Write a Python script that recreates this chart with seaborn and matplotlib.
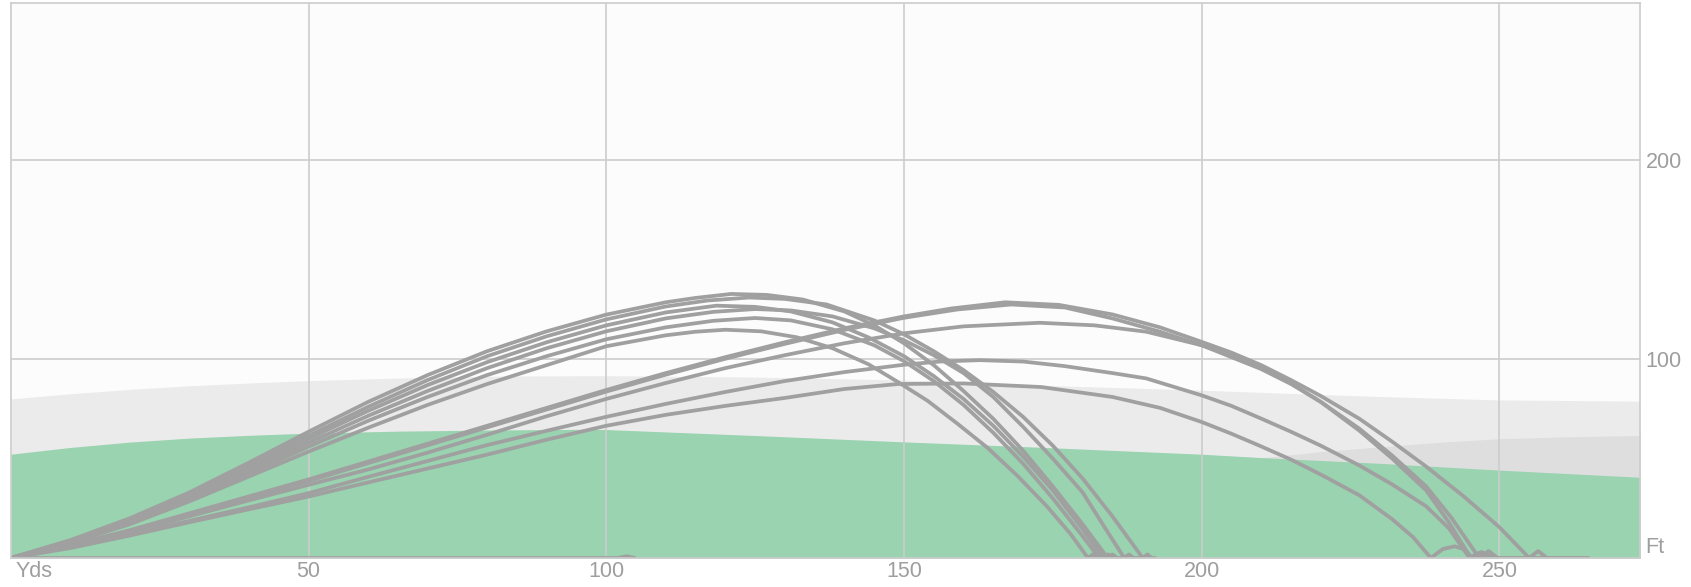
import numpy as np
import pandas as pd
import matplotlib
matplotlib.use("Agg")
import matplotlib.pyplot as plt
import seaborn as sns

# ---------------- data (yards, feet) ----------------
shot_names = ["A1", "A1b", "A2", "A3", "A4", "A5", "B1", "B2", "B3", "B4", "B5", "C1"]

A1_x = [0, 10, 20, 30, 40, 50, 60, 70, 80, 90, 100, 110, 115, 121, 127, 133, 140, 145, 150, 155, 160, 165, 170, 175, 180, 184.2, 185.0, 185.8, 186.5]
A1_y = [0, 9, 20, 33, 48, 63.5, 78.5, 92, 104, 114, 122.4, 128.6, 130.8, 132.8, 132.3, 130, 124, 117, 108, 97, 84, 70, 54, 36, 17, 0, 1.8, 0, 0]

A1b_x = [0, 10, 20, 30, 40, 50, 60, 70, 80, 90, 100, 110, 117, 124, 130, 137, 145, 150, 155, 160, 165, 170, 175, 180, 185, 190.1, 190.9, 191.6, 192.2]
A1b_y = [0, 8.5, 19, 32, 46.5, 61.5, 76, 89.5, 101.5, 111.5, 120, 126.5, 129.5, 131, 130.3, 127.5, 119.5, 112.5, 104, 94.5, 83.5, 71, 56.5, 40, 21, 0, 1.8, 0, 0]

A2_x = [0, 10, 20, 30, 40, 50, 60, 70, 80, 90, 100, 110, 118.5, 125, 131, 138, 144, 150, 155, 160, 165, 170, 175, 180, 183.5, 184.3, 185.0]
A2_y = [0, 8.5, 19, 31.5, 45.5, 60, 74, 87, 98.5, 108.5, 117, 123.5, 126.9, 126.3, 124, 118.5, 111, 101.5, 91.5, 80, 66.5, 51, 34, 14.5, 0, 1.8, 0]

A3_x = [0, 10, 20, 30, 40, 50, 60, 70, 80, 90, 100, 110, 118, 125, 131, 138, 145, 150, 155, 160, 165, 170, 175, 180, 184, 187.0, 187.8, 188.6, 189.5]
A3_y = [0, 8, 18, 30.5, 44, 58, 71.5, 84, 95.5, 105.5, 114, 120.5, 123.8, 125.2, 124.5, 121.5, 115.5, 109.5, 102, 93, 81, 66, 50, 33, 14, 0, 1.8, 0, 0]

A4_x = [0, 10, 20, 30, 40, 50, 60, 70, 80, 90, 100, 110, 118, 125, 131, 138, 145, 150, 155, 160, 165, 170, 175, 180, 182.8, 183.6, 184.4]
A4_y = [0, 8, 17.5, 29.5, 42.5, 56, 69, 81, 92, 101.5, 110, 116, 119.3, 120.7, 119.5, 115, 107, 99, 89, 77, 63, 47.5, 30, 11, 0, 1.8, 0]

A5_x = [0, 10, 20, 30, 40, 50, 60, 70, 80, 90, 100, 110, 115, 120, 126, 132, 138, 144, 149, 154, 159, 164, 169, 174, 178, 180.9, 181.7, 182.5]
A5_y = [0, 7.5, 17, 28.5, 41, 53.5, 65.5, 77, 87.5, 97, 106.5, 112, 113.8, 114.8, 114, 111, 105.5, 97.5, 88.5, 79, 67.5, 55.5, 41.5, 26, 12, 0, 1.8, 0]

B1_x = [0, 10, 20, 30, 40, 50, 60, 70, 80, 90, 100, 110, 120, 130, 140, 150, 158, 167, 176, 185, 193, 200, 205, 210, 215, 220, 226.5, 232, 237.7, 244, 250, 255, 256.5, 258, 265]
B1_y = [0, 6.5, 14, 22.5, 31, 39.5, 48.5, 57.5, 66.5, 75.5, 84.5, 93, 101, 108.5, 115.5, 121.5, 125.5, 128.6, 127.3, 122.5, 116, 108.7, 103.3, 97, 89.5, 81.5, 70, 58.5, 46, 31, 15.5, 0, 3.5, 0, 0]

B2_x = [0, 10, 20, 30, 40, 50, 60, 70, 80, 90, 100, 110, 120, 130, 140, 150, 159, 168, 177, 185, 193, 200, 205, 210, 215, 220, 226.5, 232, 237.7, 242, 246.6, 248.2, 249.7, 262]
B2_y = [0, 6.3, 13.7, 22, 30.5, 38.7, 47.7, 56.7, 65.7, 74.7, 83.7, 92.2, 100.2, 107.7, 114.7, 120.8, 125, 127.5, 126, 120.5, 113.8, 107, 101, 95, 87.5, 78.5, 65, 51.5, 36, 20, 0, 3.5, 0, 0]

B3_x = [0, 10, 20, 30, 40, 50, 60, 70, 80, 90, 100, 110, 120, 130, 140, 150, 160, 172.8, 182, 190.7, 200, 205, 210, 215, 220, 226.5, 232, 237.7, 241.5, 245.2, 247, 249, 258]
B3_y = [0, 6, 13, 21, 29, 36.8, 44.5, 53, 62, 71.3, 80, 88, 95.5, 102, 108, 113, 116.5, 118.3, 117, 113.8, 107, 102, 96, 88, 78.5, 64, 50, 34, 18, 0, 3, 0, 0]

B4_x = [0, 10, 20, 30, 40, 50, 60, 70, 80, 90, 100, 110, 120, 130, 140, 150, 156, 162.7, 170, 177, 185, 190.7, 200, 205, 209.7, 215, 220, 226.5, 232, 237.7, 241.5, 245, 246.5, 248]
B4_y = [0, 5.5, 12, 18.7, 25.5, 32.6, 40.8, 48.8, 56.8, 64, 71, 77.5, 83.5, 89, 93.5, 97.2, 98.8, 99.5, 98.8, 96.5, 93, 90.3, 81.8, 76.5, 70.5, 63.5, 56.5, 46.5, 37, 26, 15, 0, 2.5, 0]

B5_x = [0, 10, 20, 30, 40, 50, 60, 70, 80, 90, 100, 110, 120, 130, 140, 149, 160, 173, 185, 193, 200, 205, 209.7, 215, 220, 226.5, 232, 235.5, 238.5, 240.5, 242.5, 244, 245.5, 264]
B5_y = [0, 5, 11.3, 18, 24.5, 30.9, 38, 45, 52, 59.5, 66.5, 72, 76.5, 80.5, 85, 87.5, 87.8, 86, 81, 75.5, 68.4, 62.5, 56.5, 49.5, 42, 31.5, 19.5, 10.5, 0, 4.5, 5.9, 4.5, 0, 0]

C1_x = [0, 102, 103.4, 104.8]
C1_y = [0, 0, 0.9, 0]

# background zones
light_x = [0, 10, 20, 30, 40, 50, 65, 82, 100, 125, 150, 175, 200, 210, 230, 250, 273.6]
light_top = [80, 82.6, 84.8, 86.6, 88, 89.2, 90.5, 91.5, 91.7, 91, 89.5, 86.7, 84.4, 83.3, 81.2, 79.5, 78.9]

green_x = [0, 10, 20, 30, 40, 50, 65, 82, 95, 100, 125, 150, 172, 200, 210, 230, 250, 273.6]
green_top = [52.2, 55.6, 58.3, 60.3, 61.7, 62.8, 63.8, 64.4, 64.7, 64.6, 61.6, 58.4, 55.8, 52.2, 50.5, 47.6, 44.2, 40.6]

dark_x = [205, 209.7, 220, 230, 240, 250, 262, 273.6]
dark_top = [51.2, 50.3, 53.5, 55.9, 58.2, 60, 61, 61.6]

x_ticks = [0, 50, 100, 150, 200, 250]
x_labels = ["Yds", "50", "100", "150", "200", "250"]
y_ticks = [0, 100, 200]
y_labels = ["Ft", "100", "200"]

# ---------------- build table ----------------
xs = [A1_x, A1b_x, A2_x, A3_x, A4_x, A5_x, B1_x, B2_x, B3_x, B4_x, B5_x, C1_x]
ys = [A1_y, A1b_y, A2_y, A3_y, A4_y, A5_y, B1_y, B2_y, B3_y, B4_y, B5_y, C1_y]
rows = []
for name, sx, sy in zip(shot_names, xs, ys):
    for i, (a, b) in enumerate(zip(sx, sy)):
        rows.append({"shot": name, "order": i, "yds": a, "ft": b})
df = pd.DataFrame(rows)

# ---------------- plot ----------------
sns.set_style("white")
plt.rcParams["font.family"] = ["Liberation Sans", "DejaVu Sans"]

fig = plt.figure(figsize=(16.91, 5.87), dpi=100)
ax = fig.add_axes([0.0064, 0.0494, 0.9634, 0.9451])
ax.set_facecolor("#fcfcfc")

XMAX, YMAX = 273.6, 279

grid_fine = np.linspace(0, XMAX, 400)
lt = np.interp(grid_fine, light_x, light_top)
gt = np.interp(grid_fine, green_x, green_top)
ax.fill_between(grid_fine, 0, lt, color="#ebebeb", lw=0, zorder=1)
dx = np.linspace(dark_x[0], XMAX, 200)
dt = np.interp(dx, dark_x, dark_top)
ax.fill_between(dx, 0, dt, color="#dedede", lw=0, zorder=1.1)
ax.fill_between(grid_fine, 0, gt, color="#99d3b0", lw=0, zorder=1.2)

for xv in x_ticks[1:]:
    ax.axvline(xv, color="#cccccc", lw=1.2, zorder=1.5)
for yv in y_ticks[1:]:
    ax.axhline(yv, color="#cccccc", lw=1.2, zorder=1.5)

sns.lineplot(data=df, x="yds", y="ft", units="shot", estimator=None, sort=False,
             color="#a0a0a0", lw=2.7, ax=ax, legend=False, zorder=3)
for ln in ax.lines:
    if ln.get_zorder() == 3:
        ln.set_solid_joinstyle("round")
        ln.set_solid_capstyle("round")

ax.set_xlim(0, XMAX)
ax.set_ylim(0, YMAX)
ax.grid(False)

label_color = "#9e9e9e"
ax.set_xticks(x_ticks)
ax.set_xticklabels([""] + x_labels[1:])
ax.annotate(x_labels[0], xy=(x_ticks[0], 0), xycoords=("data", "axes fraction"),
            xytext=(3.5, -2.5), textcoords="offset points", ha="left", va="top",
            fontsize=15.5, color=label_color)
ax.yaxis.tick_right()
ax.set_yticks(y_ticks)
ax.set_yticklabels(y_labels)
ax.tick_params(axis="x", length=0, pad=2.5, labelsize=15.5, labelcolor=label_color)
ax.tick_params(axis="y", length=0, pad=4, labelsize=15.5, labelcolor=label_color)
yl = ax.get_yticklabels()
yl[0].set_va("bottom")

ax.set_xlabel("")
ax.set_ylabel("")
for s in ax.spines.values():
    s.set_color("#cccccc")
    s.set_linewidth(1.2)
    s.set_zorder(4)

fig.savefig("out.png", dpi=100, facecolor="white")
